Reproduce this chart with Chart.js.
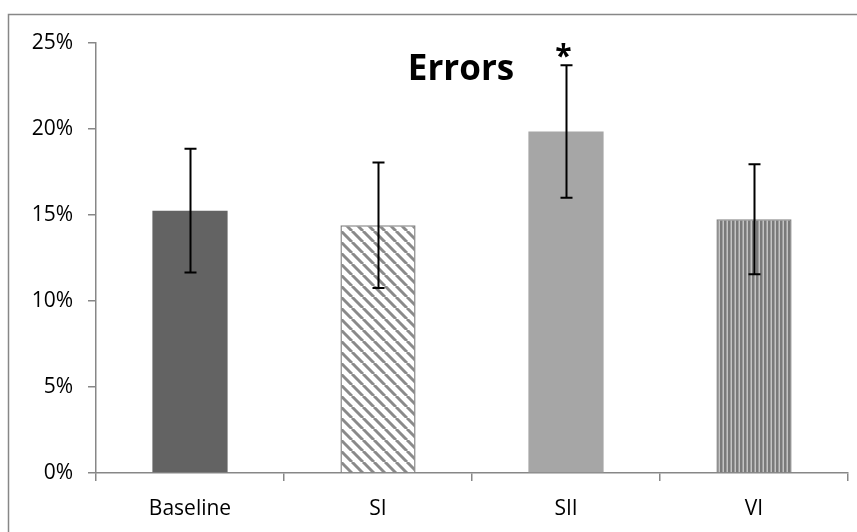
<!DOCTYPE html>
<html>
<head>
<meta charset="utf-8">
<script src="https://cdn.jsdelivr.net/npm/chart.js@4/dist/chart.umd.min.js"></script>
<style>
  html, body { margin: 0; padding: 0; background: #fff; }
  #wrap { width: 857px; height: 532px; position: relative; }
</style>
</head>
<body>
<div id="wrap"><canvas id="grafico" width="857" height="532"></canvas></div>
<script>
// datos
const categorias = ["Baseline", "SI", "SII", "VI"];
const errores = [15.25, 14.4, 19.85, 14.75];   // % de errores
const desvio = [3.6, 3.65, 3.85, 3.2];          // barras de error (+/-)
const marcas = ["", "", "*", ""];               // significancia
const ticksY = [0, 5, 10, 15, 20, 25];

const gris = "#878787";

function rayasDiagonales() {
  const c = document.createElement("canvas");
  c.width = 11; c.height = 11;
  const g = c.getContext("2d");
  g.fillStyle = "#fff";
  g.fillRect(0, 0, 11, 11);
  g.strokeStyle = "#8a8a8a";
  g.lineWidth = 3;
  for (let k = -1; k <= 1; k++) {
    g.beginPath();
    g.moveTo(k * 11, 0);
    g.lineTo(k * 11 + 11, 11);
    g.stroke();
  }
  return g.createPattern(c, "repeat");
}

function rayasVerticales() {
  const c = document.createElement("canvas");
  c.width = 4; c.height = 4;
  const g = c.getContext("2d");
  g.fillStyle = "#c4c4c4";
  g.fillRect(0, 0, 4, 4);
  g.fillStyle = "#7a7a7a";
  g.fillRect(0, 0, 2.5, 4);
  return g.createPattern(c, "repeat");
}

const colores = ["#636363", rayasDiagonales(), "#a6a6a6", rayasVerticales()];

// marco gris de fondo, barras de error y titulo
const extras = {
  id: "extras",
  beforeDraw(chart) {
    const ctx = chart.ctx;
    ctx.save();
    ctx.fillStyle = "#fff";
    ctx.fillRect(0, 0, chart.width, chart.height);
    ctx.strokeStyle = gris;
    ctx.lineWidth = 1.5;
    ctx.strokeRect(8.5, 14.5, chart.width + 20, chart.height + 20);
    ctx.restore();
  },
  afterDatasetsDraw(chart) {
    const ctx = chart.ctx;
    const y = chart.scales.y;
    const meta = chart.getDatasetMeta(0);
    ctx.save();
    ctx.strokeStyle = "#000";
    ctx.lineWidth = 2;
    meta.data.forEach((bar, i) => {
      const x = Math.round(bar.x) + 0.5;
      const arriba = y.getPixelForValue(errores[i] + desvio[i]);
      const abajo = y.getPixelForValue(errores[i] - desvio[i]);
      ctx.beginPath();
      ctx.moveTo(x, arriba); ctx.lineTo(x, abajo);
      ctx.moveTo(x - 6, arriba); ctx.lineTo(x + 6, arriba);
      ctx.moveTo(x - 6, abajo); ctx.lineTo(x + 6, abajo);
      ctx.stroke();
      if (marcas[i]) {
        ctx.fillStyle = "#000";
        ctx.font = "bold 30px 'Open Sans'";
        ctx.textAlign = "center";
        ctx.textBaseline = "alphabetic";
        ctx.fillText(marcas[i], x - 3, arriba + 1);
      }
    });
    ctx.fillStyle = "#000";
    ctx.font = "bold 35px 'Open Sans'";
    ctx.textAlign = "center";
    ctx.textBaseline = "alphabetic";
    ctx.fillText("Errors", 461, 80);
    ctx.restore();
  }
};

new Chart(document.getElementById("grafico"), {
  type: "bar",
  data: {
    labels: categorias,
    datasets: [{
      label: "Errors",
      data: errores,
      backgroundColor: colores,
      borderColor: gris,
      borderWidth: [0, 1.5, 0, 1.5],
      barPercentage: 0.4,
      categoryPercentage: 1
    }]
  },
  options: {
    responsive: false,
    animation: false,
    devicePixelRatio: 1,
    layout: { padding: { top: 43, right: 9, left: 0, bottom: 0 } },
    plugins: {
      legend: { display: false },
      title: { display: false },
      tooltip: { enabled: false }
    },
    scales: {
      x: {
        offset: true,
        grid: { offset: true, drawOnChartArea: false, tickLength: 8, color: gris, lineWidth: 1.5 },
        border: { color: gris, width: 1.5 },
        ticks: { color: "#000", padding: 15, font: { family: "'Open Sans'", size: 21 } },
        afterFit(s) { s.height = 59; }
      },
      y: {
        min: 0,
        max: 25,
        afterBuildTicks(s) { s.ticks = ticksY.map(v => ({ value: v })); },
        grid: { drawOnChartArea: false, tickLength: 8, color: gris, lineWidth: 1.5 },
        border: { color: gris, width: 1.5 },
        ticks: {
          color: "#000",
          padding: 15,
          font: { family: "'Open Sans'", size: 21 },
          callback: v => v + "%"
        },
        afterFit(s) { s.width = 96; }
      }
    }
  },
  plugins: [extras]
});
</script>
</body>
</html>
